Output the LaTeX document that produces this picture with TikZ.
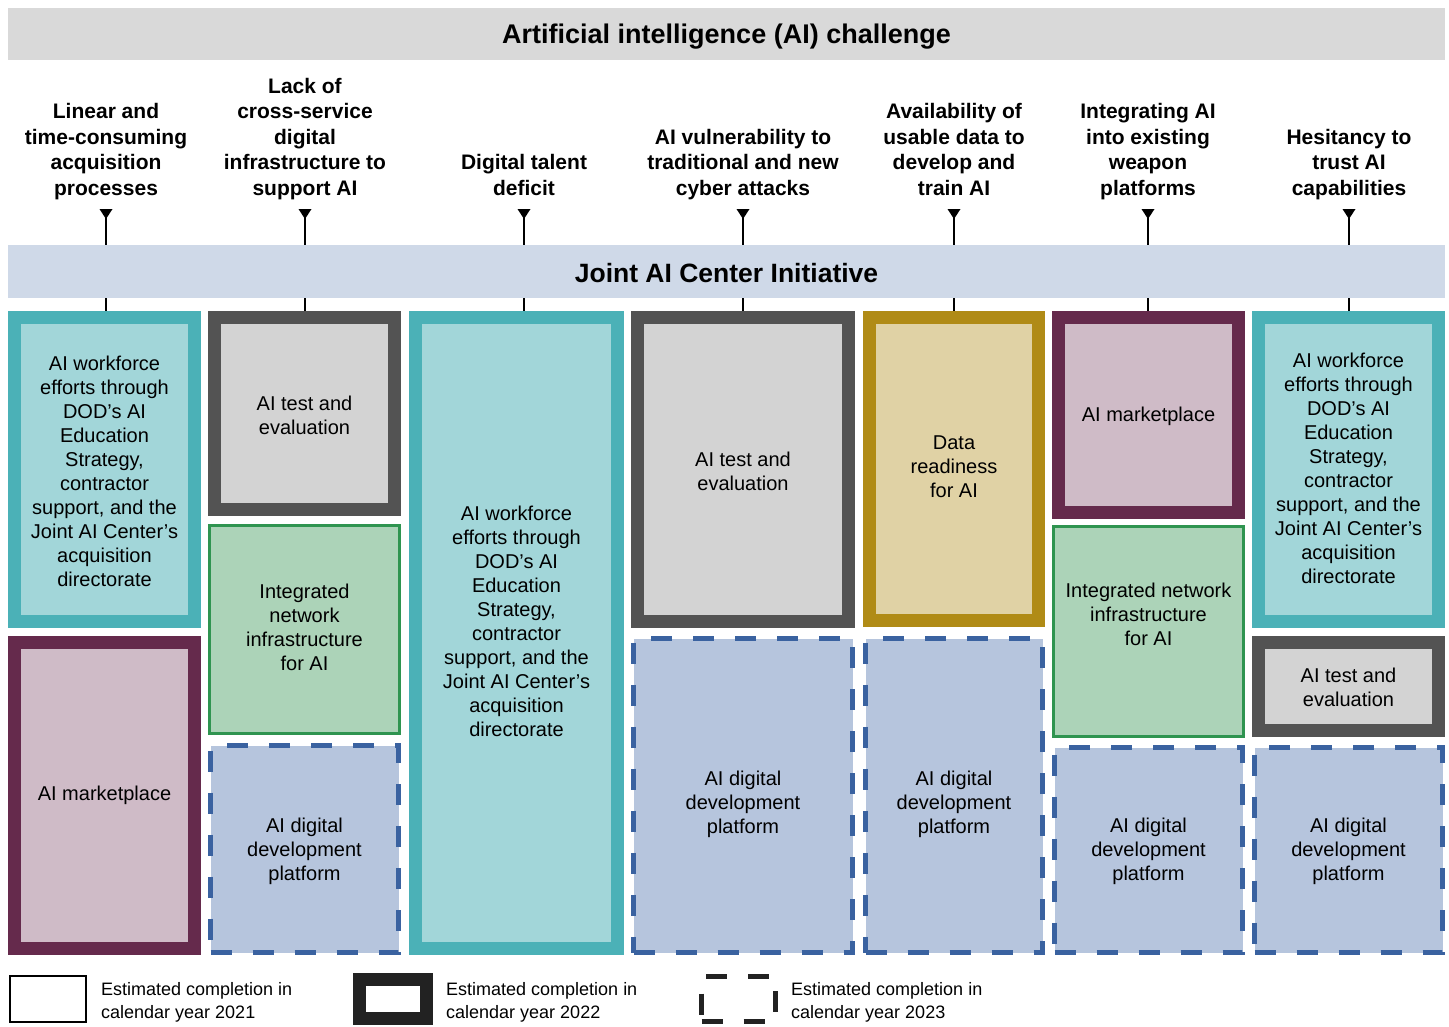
\documentclass[tikz,border=0pt]{standalone}
\usepackage{fontspec}
\setmainfont{Liberation Sans}
\usetikzlibrary{calc}
\definecolor{tealO}{HTML}{4BB1B7}
\definecolor{tealI}{HTML}{A2D6D9}
\definecolor{grayO}{HTML}{535353}
\definecolor{grayI}{HTML}{D3D3D3}
\definecolor{purpO}{HTML}{652A4C}
\definecolor{purpI}{HTML}{CFBBC7}
\definecolor{goldO}{HTML}{B08B16}
\definecolor{goldI}{HTML}{E0D2A5}
\definecolor{grnO}{HTML}{2F9450}
\definecolor{grnI}{HTML}{ACD3B8}
\definecolor{dashC}{HTML}{3A62A0}
\definecolor{dashF}{HTML}{B6C5DD}
\definecolor{topB}{HTML}{D9D9D9}
\definecolor{jointB}{HTML}{CFD9E8}
\definecolor{legdark}{HTML}{222222}
\tikzset{
 cellbox/.style={rectangle, inner sep=0pt, outer sep=0pt},
 tealbox/.style={cellbox, draw=tealO, fill=tealI},
 graybox/.style={cellbox, draw=grayO, fill=grayI},
 purpbox/.style={cellbox, draw=purpO, fill=purpI},
 goldbox/.style={cellbox, draw=goldO, fill=goldI},
 grnbox/.style={cellbox, draw=grnO, fill=grnI},
 dashbox/.style={cellbox, draw=dashC, fill=dashF, dash pattern=on 21pt off 21pt},
 celltext/.style={font=\fontsize{20}{24}\selectfont, align=center, inner sep=0pt},
 head/.style={font=\bfseries\fontsize{21}{25.5}\selectfont, align=center, inner sep=0pt, anchor=south},
 banner/.style={rectangle, inner sep=0pt, outer sep=0pt, minimum width=1437pt},
 conn/.style={line width=1.5pt, draw=black},
 legtext/.style={font=\fontsize{18}{23}\selectfont, align=left, inner sep=0pt, anchor=west},
}
\newcommand\cell[9]{%
 \node[#2, line width=#3pt, minimum width={(#6-#4-#3)*1pt}, minimum height={(#7-#5-#3)*1pt}] (#1) at ({(#4+#6)/2},{(#5+#7)/2}) {};
 \node[celltext] (#1t) at ({(#4+#6)/2},#8) {#9};}
\begin{document}
\begin{tikzpicture}[x=1pt,y=-1pt]
\useasboundingbox (0,0) rectangle (1449,1026);
% headers
\node[head] (h1) at (106,203) {Linear and\\time-consuming\\acquisition\\processes\strut};
\node[head] (h2) at (305,203) {Lack of\\cross-service\\digital\\infrastructure to\\support AI\strut};
\node[head] (h3) at (524,203) {Digital talent\\deficit\strut};
\node[head] (h4) at (743,203) {AI vulnerability to\\traditional and new\\cyber attacks\strut};
\node[head] (h5) at (954,203) {Availability of\\usable data to\\develop and\\train AI\strut};
\node[head] (h6) at (1148,203) {Integrating AI\\into existing\\weapon\\platforms\strut};
\node[head] (h7) at (1349,203) {Hesitancy to\\trust AI\\capabilities\strut};
\foreach \i/\x in {1/106,2/305,3/524,4/743,5/954,6/1148,7/1349}{
  \coordinate (a\i) at (\x,209);
  \coordinate (b\i) at (\x,316);
}
\foreach \i in {1,...,7}{
  \draw[conn] (a\i) -- (b\i);
  \fill ($(a\i)+(-6.5,0)$) -- ($(a\i)+(6.5,0)$) -- ($(a\i)+(0,10)$) -- cycle;
}
% banners
\node[banner, fill=topB, minimum height=52pt] (top) at (726.5,34) {};
\node[font=\bfseries\fontsize{27}{32}\selectfont] (toptext) at (726.5,36.5) {Artificial intelligence (AI) challenge};
\node[banner, fill=jointB, minimum height=53pt] (joint) at (726.5,271.5) {};
\node[font=\bfseries\fontsize{26.5}{32}\selectfont] (jointtext) at (726.5,273) {Joint AI Center Initiative};
% cells
\cell{c1a}{tealbox}{13}{8}{311}{201}{628}{471}{AI workforce\\efforts through\\DOD’s AI\\Education\\Strategy,\\contractor\\support, and the\\Joint AI Center’s\\acquisition\\directorate}
\cell{c1b}{purpbox}{13}{8}{636}{201}{955}{795}{AI marketplace}
\cell{c2a}{graybox}{13}{208}{311}{401}{516}{415}{AI test and\\evaluation}
\cell{c2b}{grnbox}{3}{208}{524}{401}{735}{627}{Integrated\\network\\infrastructure\\for AI}
\cell{c2c}{dashbox}{5}{208}{743}{401}{955}{851}{AI digital\\development\\platform}
\cell{c3}{tealbox}{13}{409}{311}{624}{955}{621}{AI workforce\\efforts through\\DOD’s AI\\Education\\Strategy,\\contractor\\support, and the\\Joint AI Center’s\\acquisition\\directorate}
\cell{c4a}{graybox}{13}{631}{311}{855}{628}{471}{AI test and\\evaluation}
\cell{c4b}{dashbox}{5}{631}{636}{855}{955}{804}{AI digital\\development\\platform}
\cell{c5a}{goldbox}{13}{863}{311}{1045}{627}{467}{Data\\readiness\\for AI}
\cell{c5b}{dashbox}{5}{863}{636}{1045}{955}{804}{AI digital\\development\\platform}
\cell{c6a}{purpbox}{13}{1052}{311}{1245}{519}{416}{AI marketplace}
\cell{c6b}{grnbox}{3}{1052}{525}{1245}{738}{614}{Integrated network\\infrastructure\\for AI}
\cell{c6c}{dashbox}{5}{1052}{745}{1245}{955}{851}{AI digital\\development\\platform}
\cell{c7a}{tealbox}{13}{1252}{311}{1445}{628}{468}{AI workforce\\efforts through\\DOD’s AI\\Education\\Strategy,\\contractor\\support, and the\\Joint AI Center’s\\acquisition\\directorate}
\cell{c7b}{graybox}{13}{1252}{636}{1445}{737}{687}{AI test and\\evaluation}
\cell{c7c}{dashbox}{5}{1252}{745}{1445}{955}{851}{AI digital\\development\\platform}
% legend
\node[cellbox, draw=black, line width=2pt, minimum width=76pt, minimum height=46pt] (l1) at (48,999) {};
\node[legtext] (l1t) at (101,1002) {Estimated completion in\\calendar year 2021};
\node[cellbox, draw=legdark, line width=13pt, minimum width=67pt, minimum height=39pt] (l2) at (393,999) {};
\node[legtext] (l2t) at (446,1002) {Estimated completion in\\calendar year 2022};
\node[cellbox, draw=legdark, line width=5pt, dash pattern=on 21pt off 21pt, minimum width=74pt, minimum height=45pt] (l3) at (738.5,999) {};
\node[legtext] (l3t) at (791,1002) {Estimated completion in\\calendar year 2023};
\end{tikzpicture}
\end{document}
